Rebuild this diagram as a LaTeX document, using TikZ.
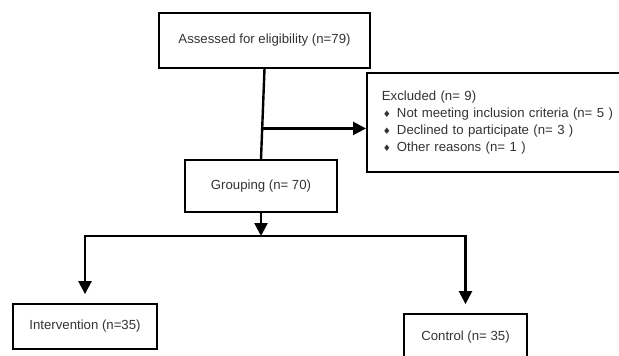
\documentclass[tikz,border=0pt]{standalone}
\usepackage{fontspec}
\setmainfont{Liberation Sans}
\newfontfamily\symfont{DejaVu Sans}
\usetikzlibrary{positioning}
\usetikzlibrary{arrows.meta}

\newcommand{\dmd}{\hspace{1pt}{\symfont\fontsize{9}{9}\selectfont ♦}\hspace{6pt}}

\begin{document}
\begin{tikzpicture}[x=1pt, y=-1pt,
    box/.style={draw, line width=1.8pt, inner sep=0pt, text=black!80,
      font=\fontsize{13.2}{17}\selectfont},
    edge/.style={line width=2.4pt, -{Triangle[length=13pt,width=13pt]}}]
  \useasboundingbox (0,0) rectangle (619,356);

  % Nodes
  \node[box, minimum width=211pt, minimum height=55pt] (assess) at (264.5,40.5) {Assessed for eligibility (n=79)};
  \node[box, minimum width=152pt, minimum height=52pt] (group) at (261,186) {Grouping (n= 70)};
  \node[box, anchor=north west, minimum height=99pt, text width=240pt, inner xsep=15pt, align=left] (excl) at (366,72)
    {Excluded (n= 9)\\
     \dmd Not meeting inclusion criteria (n= 5 )\\
     \dmd Declined to participate (n= 3 )\\
     \dmd Other reasons (n= 1 )};
  \node[box, minimum width=144pt, minimum height=45pt] (interv) at (85,326.5) {Intervention (n=35)};
  \node[box, minimum width=123pt, minimum height=46pt] (ctrl) at (465.5,337) {Control (n= 35)};

  % Edges
  \draw[line width=2.4pt] (assess.south) -- (group.north) coordinate[pos=0.66] (split);
  \draw[edge] (split) -- (split -| excl.west);
  \coordinate (fork) at (group.south |- 0,236);
  \draw[edge] (group.south) -- (fork);
  \draw[edge, shorten >=9pt] (fork) -| (interv.north);
  \draw[edge, shorten >=9pt] (fork) -| (ctrl.north);
\end{tikzpicture}
\end{document}
